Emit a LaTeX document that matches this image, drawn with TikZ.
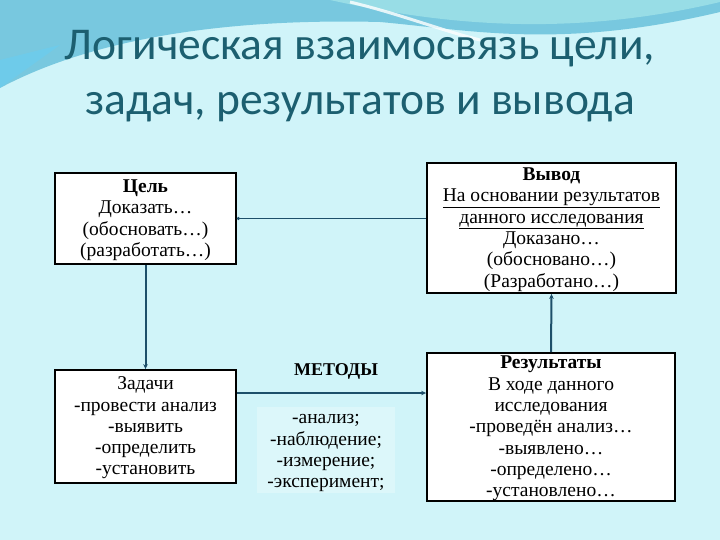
\documentclass[tikz,border=0pt]{standalone}
\usepackage{fontspec}
\setmainfont{Liberation Serif}
\newfontfamily\titlefont{Carlito}
\usetikzlibrary{arrows.meta}
\usetikzlibrary{positioning}

\definecolor{bgcyan}{HTML}{D0F4F9}
\definecolor{wavebl}{HTML}{78C8DF}
\definecolor{wavetop}{HTML}{98DDE6}
\definecolor{titlecol}{HTML}{1C5F70}
\definecolor{linkcol}{HTML}{1D4F6A}

% strut that pushes the box text a bit down
\newcommand{\boxtop}{\rule{0pt}{16pt}}

\begin{document}
\begin{tikzpicture}[x=1pt, y=-1pt,
    box/.style={draw=black, line width=1.8pt, fill=white, align=center, inner sep=0pt,
      font=\fontsize{19.5}{21.3}\selectfont},
    plain/.style={align=center, inner sep=0pt, font=\fontsize{19.5}{21.3}\selectfont},
    link/.style={draw=linkcol, line width=2pt, -{Stealth[length=5pt,width=4.5pt]}}]
        % background and waves on top
        \fill[bgcyan] (0,0) rectangle (720,540);
        \fill[wavebl] (0,0) -- (0,88) .. controls (90,40) and (220,18) .. (380,22)
          .. controls (470,30) and (560,50) .. (720,12) -- (720,0) -- cycle;
        \fill[wavetop] (330,0) .. controls (430,22) and (560,40) .. (720,2) -- (720,0) -- cycle;
        \draw[white, line width=3pt, opacity=0.8] (350,2) .. controls (400,14) and (440,30) .. (480,40);
        \fill[cyan!60!white, opacity=0.5] (0,60) .. controls (20,55) and (40,50) .. (60,45) -- (0,88) -- cycle;

        % title
        \node[titlecol, font=\titlefont\fontsize{45.5}{55}\selectfont, align=center] (title) at (360,76)
          {Логическая взаимосвязь цели,\\задач, результатов и вывода};

        % the boxes
        \node[box, minimum width=181pt, minimum height=91pt] (goal) at (145.5,218.5)
          {\boxtop\textbf{Цель}\\Доказать…\\(обосновать…)\\(разработать…)};
        \node[box, minimum width=249pt, minimum height=130pt] (concl) at (551.5,228)
          {\boxtop\textbf{Вывод}\\\underline{На основании результатов}\\\underline{данного исследования}\\Доказано…\\(обосновано…)\\(Разработано…)};
        \node[box, minimum width=181pt, minimum height=113pt] (tasks) at (145.5,426.5)
          {\boxtop Задачи\\-провести анализ\\-выявить\\-определить\\-установить};
        \node[box, minimum width=248pt, minimum height=148pt] (res) at (551,427)
          {\boxtop\textbf{Результаты}\\В ходе данного\\исследования\\-проведён анализ…\\-выявлено…\\-определено…\\-установлено…};

        % methods
        \node[plain, font=\fontsize{18}{20}\selectfont\bfseries] (meth) at (336,371) {МЕТОДЫ};
        \node[plain, fill=white!25!bgcyan, minimum width=138pt, minimum height=86pt] (methlist) at (326,450)
          {\boxtop-анализ;\\-наблюдение;\\-измерение;\\-эксперимент;};

        % connectors
        \draw[link, line width=1.2pt, -{Circle[length=3pt]}] (concl.west |- goal.east) -- (goal.east);
        \draw[link] (goal.south) -- (tasks.north);
        \draw[link] ([yshift=33.5pt]tasks.east) -- ([yshift=33.5pt]tasks.east -| res.west);
        \draw[link] (res.north) -- (concl.south);
\end{tikzpicture}
\end{document}
